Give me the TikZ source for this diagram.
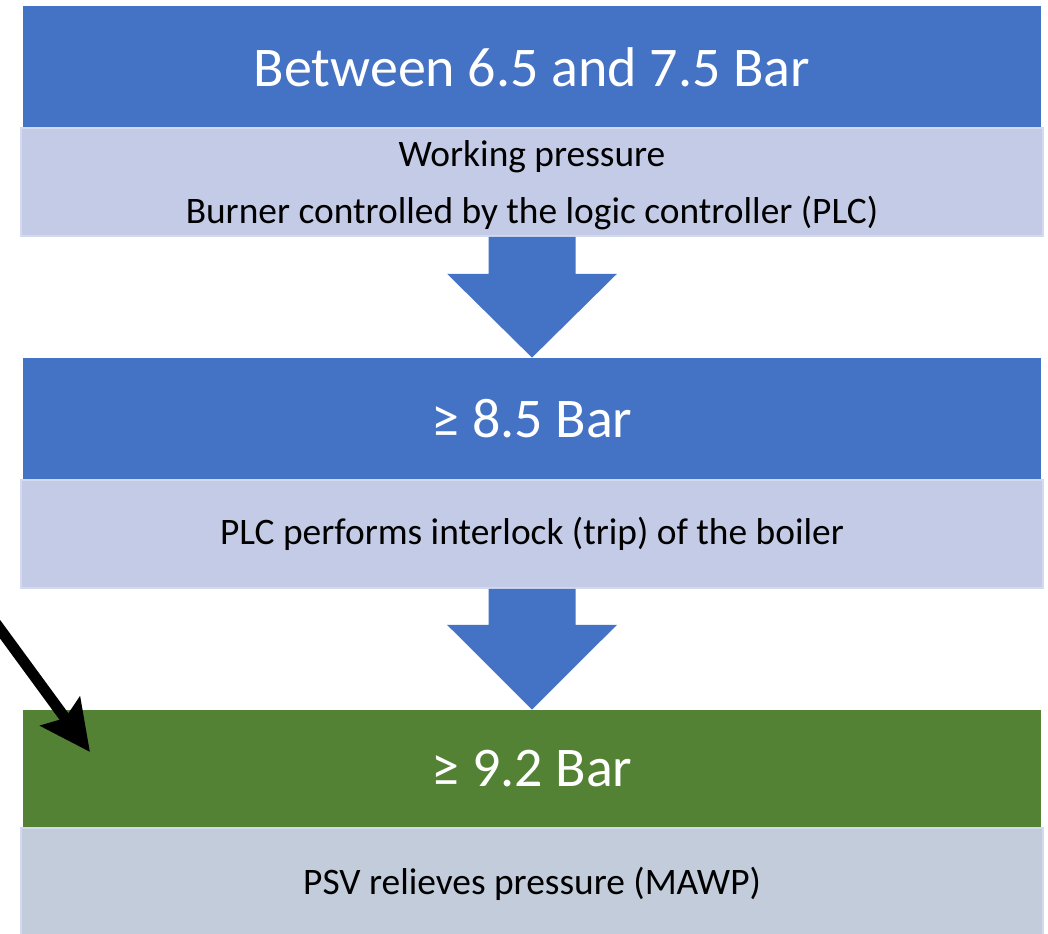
\documentclass[tikz,border=0pt]{standalone}
\usepackage{fontspec}
\setmainfont{Carlito}
\usetikzlibrary{arrows.meta,calc}
\definecolor{hblue}{HTML}{4472C4}
\definecolor{lblue}{HTML}{C3CBE6}
\definecolor{lgrey}{HTML}{C2CCDA}
\definecolor{hgreen}{HTML}{548235}
\definecolor{ledge}{HTML}{D3D9EE}
\begin{document}
\begin{tikzpicture}[x=0.5pt,y=-0.5pt,
  header/.style={rectangle, inner sep=0pt, minimum width=509pt, text=white,
     font=\fontsize{28}{33}\selectfont},
  light/.style={rectangle, inner sep=0pt, minimum width=511pt, minimum height=54pt,
     draw=ledge, line width=0.75pt, text=black, align=center,
     font=\fontsize{18.7}{28.5}\selectfont},
  lighttext/.style={inner sep=0pt, text=black, align=center,
     font=\fontsize{18.7}{28.5}\selectfont},
  blockarrow/.style={fill=hblue},
  pointer/.style={line width=5.5pt, -{Stealth[length=25pt,width=24pt,inset=4pt]}}
]
\clip (0,0) rectangle (1048,933);
\fill[white] (0,0) rectangle (1048,933);

\node[header, fill=hblue, minimum height=61pt] (h1) at (532,67) {Between 6.5 and 7.5 Bar};
\node[light, fill=lblue] (l1) at (532,182) {};
\node[lighttext] (t1) at (532,185) {Working pressure\\Burner controlled by the logic controller (PLC)};

\node[header, fill=hblue, minimum height=61pt] (h2) at (532,419) {≥ 8.5 Bar};
\node[light, fill=lblue] (l2) at (532,534) {PLC performs interlock (trip) of the boiler};

\node[header, fill=hgreen, minimum height=59pt] (h3) at (532,769) {≥ 9.2 Bar};
\node[light, fill=lgrey, minimum height=56pt] (l3) at (532,884) {PSV relieves pressure (MAWP)};

\fill[blockarrow] ($(l1.south)+(-43.5,0)$) -- ($(l1.south)+(-43.5,37)$) -- ($(l1.south)+(-85,37)$)
  -- (h2.north) -- ($(l1.south)+(85,37)$) -- ($(l1.south)+(43.5,37)$) -- ($(l1.south)+(43.5,0)$) -- cycle;
\fill[blockarrow] ($(l2.south)+(-43.5,0)$) -- ($(l2.south)+(-43.5,36)$) -- ($(l2.south)+(-85,36)$)
  -- (h3.north) -- ($(l2.south)+(85,36)$) -- ($(l2.south)+(43.5,36)$) -- ($(l2.south)+(43.5,0)$) -- cycle;

\coordinate (bs) at (-14,610);
\coordinate (bt) at (90,752);
\draw[pointer] (bs) -- (bt);
\end{tikzpicture}
\end{document}
